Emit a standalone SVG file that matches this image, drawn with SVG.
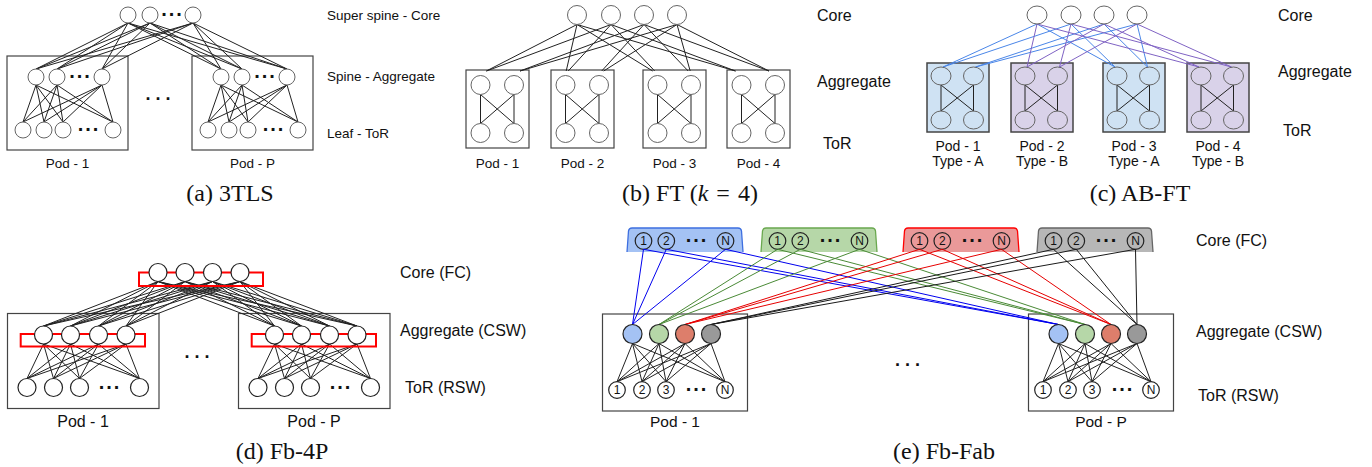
<svg xmlns="http://www.w3.org/2000/svg" width="1372" height="467" viewBox="0 0 1372 467">
<style>
text{font-family:"Liberation Sans",Arial,sans-serif;fill:#111}
.cap{font-family:"Liberation Serif","Times New Roman",serif;font-size:24px;text-anchor:middle}
.l13{font-size:13.5px}
.l16{font-size:16px}
.p13{font-size:13.5px;text-anchor:middle}
.p14{font-size:14px;text-anchor:middle}
.p16{font-size:16px;text-anchor:middle}
.p15{font-size:15.5px;text-anchor:middle}
.dots{font-weight:bold;font-size:20px;letter-spacing:2px;text-anchor:middle}
.mdots{font-weight:bold;font-size:18px;letter-spacing:5px;text-anchor:middle}
.num{font-size:12px;text-anchor:middle}
.box{fill:none;stroke:#444;stroke-width:1.2}
.boxA{fill:#cfe2f3;stroke:#444;stroke-width:1.5}
.boxB{fill:#d9d2e9;stroke:#444;stroke-width:1.5}
.ng{fill:#fff;stroke:#666;stroke-width:1}
.nt{fill:none;stroke:#666;stroke-width:1}
.nk{fill:#fff;stroke:#222;stroke-width:1.2}
.no{fill:none;stroke:#222;stroke-width:1.2}
.red{fill:none;stroke:#f00;stroke-width:2}
line{stroke-width:1;fill:none}
.k line,line.k{stroke:#222}
.bl line{stroke:#4a86e8}
.pu line{stroke:#8063c4}
.eb line{stroke:#0000ee}
.eg line{stroke:#4a8a36}
.er line{stroke:#e60000}
.ek line{stroke:#1a1a1a}
</style>

<!-- ================= containers ================= -->
<g id="a-pod1"><rect class="box" x="7" y="56" width="121" height="94"/><text class="p13" x="67.5" y="167.5">Pod - 1</text></g>
<g id="a-podP"><rect class="box" x="192" y="56" width="121" height="94"/><text class="p13" x="252.5" y="167.5">Pod - P</text></g>

<g id="b-pod1"><rect class="box" x="466" y="70" width="63" height="78"/><text class="p13" x="497.5" y="168">Pod - 1</text></g>
<g id="b-pod2"><rect class="box" x="551" y="70" width="63" height="78"/><text class="p13" x="582.5" y="168">Pod - 2</text></g>
<g id="b-pod3"><rect class="box" x="643" y="70" width="63" height="78"/><text class="p13" x="674.5" y="168">Pod - 3</text></g>
<g id="b-pod4"><rect class="box" x="727" y="70" width="63" height="78"/><text class="p13" x="758.5" y="168">Pod - 4</text></g>

<g id="c-pod1"><rect class="boxA" x="927" y="63" width="62" height="69"/><text class="p14" x="958" y="151">Pod - 1</text><text class="p14" x="958" y="166">Type - A</text></g>
<g id="c-pod2"><rect class="boxB" x="1011" y="63" width="62" height="69"/><text class="p14" x="1042" y="151">Pod - 2</text><text class="p14" x="1042" y="166">Type - B</text></g>
<g id="c-pod3"><rect class="boxA" x="1103" y="63" width="62" height="69"/><text class="p14" x="1134" y="151">Pod - 3</text><text class="p14" x="1134" y="166">Type - A</text></g>
<g id="c-pod4"><rect class="boxB" x="1187" y="63" width="62" height="69"/><text class="p14" x="1218" y="151">Pod - 4</text><text class="p14" x="1218" y="166">Type - B</text></g>

<g id="d-pod1"><rect class="box" x="7.5" y="313.5" width="151.5" height="95"/><text class="p16" x="83" y="427.4">Pod - 1</text></g>
<g id="d-podP"><rect class="box" x="238.5" y="313.5" width="151.5" height="95"/><text class="p16" x="314" y="427.4">Pod - P</text></g>

<g id="e-pod1"><rect class="box" x="602.5" y="314" width="145" height="97"/><text class="p15" x="675" y="427">Pod - 1</text></g>
<g id="e-podP"><rect class="box" x="1028.5" y="314" width="145" height="97"/><text class="p15" x="1101" y="427">Pod - P</text></g>

<!-- Fb-Fab core planes -->
<g id="e-plane1" transform="translate(627,228)">
<path d="M0,24 L1.5,3 Q2,0 5,0 L111,0 Q114,0 114.5,3 L116,24 Z" fill="#a4c2f4"/>
<path d="M0,24 L1.5,3 Q2,0 5,0 L111,0 Q114,0 114.5,3 L116,24" fill="none" stroke="#3d6fe0" stroke-width="1.3"/>
<circle class="no" cx="16.5" cy="13" r="8.3"/><text class="num" x="16.5" y="17.3">1</text>
<circle class="no" cx="39.3" cy="13" r="8.3"/><text class="num" x="39.3" y="17.3">2</text>
<text class="dots" x="70" y="14.4">...</text>
<circle class="no" cx="98.5" cy="13" r="8.3"/><text class="num" x="98.5" y="17.3">N</text>
</g>
<g id="e-plane2" transform="translate(761,228)">
<path d="M0,24 L1.5,3 Q2,0 5,0 L111,0 Q114,0 114.5,3 L116,24 Z" fill="#b6d7a8"/>
<path d="M0,24 L1.5,3 Q2,0 5,0 L111,0 Q114,0 114.5,3 L116,24" fill="none" stroke="#6aa84f" stroke-width="1.3"/>
<circle class="no" cx="16.5" cy="13" r="8.3"/><text class="num" x="16.5" y="17.3">1</text>
<circle class="no" cx="39.3" cy="13" r="8.3"/><text class="num" x="39.3" y="17.3">2</text>
<text class="dots" x="70" y="14.4">...</text>
<circle class="no" cx="98.5" cy="13" r="8.3"/><text class="num" x="98.5" y="17.3">N</text>
</g>
<g id="e-plane3" transform="translate(903,228)">
<path d="M0,24 L1.5,3 Q2,0 5,0 L111,0 Q114,0 114.5,3 L116,24 Z" fill="#ea9999"/>
<path d="M0,24 L1.5,3 Q2,0 5,0 L111,0 Q114,0 114.5,3 L116,24" fill="none" stroke="#ff0000" stroke-width="1.3"/>
<circle class="no" cx="16.5" cy="13" r="8.3"/><text class="num" x="16.5" y="17.3">1</text>
<circle class="no" cx="39.3" cy="13" r="8.3"/><text class="num" x="39.3" y="17.3">2</text>
<text class="dots" x="70" y="14.4">...</text>
<circle class="no" cx="98.5" cy="13" r="8.3"/><text class="num" x="98.5" y="17.3">N</text>
</g>
<g id="e-plane4" transform="translate(1037,228)">
<path d="M0,24 L1.5,3 Q2,0 5,0 L111,0 Q114,0 114.5,3 L116,24 Z" fill="#b7b7b7"/>
<path d="M0,24 L1.5,3 Q2,0 5,0 L111,0 Q114,0 114.5,3 L116,24" fill="none" stroke="#666" stroke-width="1.3"/>
<circle class="no" cx="16.5" cy="13" r="8.3"/><text class="num" x="16.5" y="17.3">1</text>
<circle class="no" cx="39.3" cy="13" r="8.3"/><text class="num" x="39.3" y="17.3">2</text>
<text class="dots" x="70" y="14.4">...</text>
<circle class="no" cx="98.5" cy="13" r="8.3"/><text class="num" x="98.5" y="17.3">N</text>
</g>

<!-- ================= connectors ================= -->
<g id="connectors">
 <g id="a-links" class="k">
  <line x1="128" y1="23" x2="36" y2="69"/><line x1="128" y1="23" x2="57" y2="69"/><line x1="128" y1="23" x2="102" y2="69"/>
  <line x1="128" y1="23" x2="221" y2="69"/><line x1="128" y1="23" x2="242" y2="69"/><line x1="128" y1="23" x2="287" y2="69"/>
  <line x1="150" y1="23" x2="36" y2="69"/><line x1="150" y1="23" x2="57" y2="69"/><line x1="150" y1="23" x2="102" y2="69"/>
  <line x1="150" y1="23" x2="221" y2="69"/><line x1="150" y1="23" x2="242" y2="69"/><line x1="150" y1="23" x2="287" y2="69"/>
  <line x1="193" y1="23" x2="36" y2="69"/><line x1="193" y1="23" x2="57" y2="69"/><line x1="193" y1="23" x2="102" y2="69"/>
  <line x1="193" y1="23" x2="221" y2="69"/><line x1="193" y1="23" x2="242" y2="69"/><line x1="193" y1="23" x2="287" y2="69"/>
  <g id="a-pod1-links">
   <line x1="36" y1="85" x2="23" y2="122"/><line x1="36" y1="85" x2="44" y2="122"/><line x1="36" y1="85" x2="63" y2="122"/><line x1="36" y1="85" x2="113" y2="122"/>
   <line x1="57" y1="85" x2="23" y2="122"/><line x1="57" y1="85" x2="44" y2="122"/><line x1="57" y1="85" x2="63" y2="122"/><line x1="57" y1="85" x2="113" y2="122"/>
   <line x1="102" y1="85" x2="23" y2="122"/><line x1="102" y1="85" x2="44" y2="122"/><line x1="102" y1="85" x2="63" y2="122"/><line x1="102" y1="85" x2="113" y2="122"/>
  </g>
  <g id="a-podP-links" transform="translate(185,0)">
   <line x1="36" y1="85" x2="23" y2="122"/><line x1="36" y1="85" x2="44" y2="122"/><line x1="36" y1="85" x2="63" y2="122"/><line x1="36" y1="85" x2="113" y2="122"/>
   <line x1="57" y1="85" x2="23" y2="122"/><line x1="57" y1="85" x2="44" y2="122"/><line x1="57" y1="85" x2="63" y2="122"/><line x1="57" y1="85" x2="113" y2="122"/>
   <line x1="102" y1="85" x2="23" y2="122"/><line x1="102" y1="85" x2="44" y2="122"/><line x1="102" y1="85" x2="63" y2="122"/><line x1="102" y1="85" x2="113" y2="122"/>
  </g>
 </g>

 <g id="b-links" class="k">
  <line x1="577" y1="24.5" x2="486.3" y2="71"/><line x1="577" y1="24.5" x2="566.2" y2="71"/><line x1="577" y1="24.5" x2="652.7" y2="71"/><line x1="577" y1="24.5" x2="735.5" y2="71"/>
  <line x1="611" y1="24.5" x2="486.5" y2="71"/><line x1="611" y1="24.5" x2="568.2" y2="71"/><line x1="611" y1="24.5" x2="654.7" y2="71"/><line x1="611" y1="24.5" x2="735.5" y2="71"/>
  <line x1="644" y1="24.5" x2="520" y2="71"/><line x1="644" y1="24.5" x2="601.7" y2="71"/><line x1="644" y1="24.5" x2="688.2" y2="71"/><line x1="644" y1="24.5" x2="769" y2="71"/>
  <line x1="677" y1="24.5" x2="520" y2="71"/><line x1="677" y1="24.5" x2="603.7" y2="71"/><line x1="677" y1="24.5" x2="690.2" y2="71"/><line x1="677" y1="24.5" x2="769" y2="71"/>
  <g transform="translate(466,0)"><line x1="14.5" y1="94.5" x2="14.5" y2="123.5"/><line x1="48" y1="94.5" x2="48" y2="123.5"/><line x1="14.5" y1="94.5" x2="48" y2="123.5"/><line x1="48" y1="94.5" x2="14.5" y2="123.5"/></g>
  <g transform="translate(551,0)"><line x1="14.5" y1="94.5" x2="14.5" y2="123.5"/><line x1="48" y1="94.5" x2="48" y2="123.5"/><line x1="14.5" y1="94.5" x2="48" y2="123.5"/><line x1="48" y1="94.5" x2="14.5" y2="123.5"/></g>
  <g transform="translate(643,0)"><line x1="14.5" y1="94.5" x2="14.5" y2="123.5"/><line x1="48" y1="94.5" x2="48" y2="123.5"/><line x1="14.5" y1="94.5" x2="48" y2="123.5"/><line x1="48" y1="94.5" x2="14.5" y2="123.5"/></g>
  <g transform="translate(727,0)"><line x1="14.5" y1="94.5" x2="14.5" y2="123.5"/><line x1="48" y1="94.5" x2="48" y2="123.5"/><line x1="14.5" y1="94.5" x2="48" y2="123.5"/><line x1="48" y1="94.5" x2="14.5" y2="123.5"/></g>
 </g>

 <g id="c-links">
  <g class="bl">
   <line x1="1037" y1="24" x2="943" y2="67"/><line x1="1071" y1="24" x2="943" y2="67"/>
   <line x1="1104" y1="24" x2="975.5" y2="67"/><line x1="1137" y1="24" x2="975.5" y2="67"/>
   <line x1="1037" y1="24" x2="1115" y2="67"/><line x1="1071" y1="24" x2="1115" y2="67"/>
   <line x1="1104" y1="24" x2="1147.5" y2="67"/><line x1="1137" y1="24" x2="1147.5" y2="67"/>
  </g>
  <g class="pu">
   <line x1="1037" y1="24" x2="1027" y2="67"/><line x1="1104" y1="24" x2="1027" y2="67"/>
   <line x1="1071" y1="24" x2="1059.5" y2="67"/><line x1="1137" y1="24" x2="1059.5" y2="67"/>
   <line x1="1037" y1="24" x2="1199" y2="67"/><line x1="1104" y1="24" x2="1199" y2="67"/>
   <line x1="1071" y1="24" x2="1231.5" y2="67"/><line x1="1137" y1="24" x2="1231.5" y2="67"/>
  </g>
  <g class="k" style="stroke-width:1.3">
   <g transform="translate(927,0)"><line x1="14" y1="85" x2="14" y2="111"/><line x1="46.5" y1="85" x2="46.5" y2="111"/><line x1="14" y1="85" x2="46.5" y2="111"/><line x1="46.5" y1="85" x2="14" y2="111"/></g>
   <g transform="translate(1011,0)"><line x1="14" y1="85" x2="14" y2="111"/><line x1="46.5" y1="85" x2="46.5" y2="111"/><line x1="14" y1="85" x2="46.5" y2="111"/><line x1="46.5" y1="85" x2="14" y2="111"/></g>
   <g transform="translate(1103,0)"><line x1="14" y1="85" x2="14" y2="111"/><line x1="46.5" y1="85" x2="46.5" y2="111"/><line x1="14" y1="85" x2="46.5" y2="111"/><line x1="46.5" y1="85" x2="14" y2="111"/></g>
   <g transform="translate(1187,0)"><line x1="14" y1="85" x2="14" y2="111"/><line x1="46.5" y1="85" x2="46.5" y2="111"/><line x1="14" y1="85" x2="46.5" y2="111"/><line x1="46.5" y1="85" x2="14" y2="111"/></g>
  </g>
 </g>

 <g id="d-links" class="k">
  <line x1="158" y1="281.5" x2="43.5" y2="326"/><line x1="158" y1="281.5" x2="70.5" y2="326"/><line x1="158" y1="281.5" x2="98.5" y2="326"/><line x1="158" y1="281.5" x2="126" y2="326"/>
  <line x1="158" y1="281.5" x2="274.5" y2="326"/><line x1="158" y1="281.5" x2="301.5" y2="326"/><line x1="158" y1="281.5" x2="329.5" y2="326"/><line x1="158" y1="281.5" x2="357" y2="326"/>
  <line x1="185" y1="281.5" x2="43.5" y2="326"/><line x1="185" y1="281.5" x2="70.5" y2="326"/><line x1="185" y1="281.5" x2="98.5" y2="326"/><line x1="185" y1="281.5" x2="126" y2="326"/>
  <line x1="185" y1="281.5" x2="274.5" y2="326"/><line x1="185" y1="281.5" x2="301.5" y2="326"/><line x1="185" y1="281.5" x2="329.5" y2="326"/><line x1="185" y1="281.5" x2="357" y2="326"/>
  <line x1="212.5" y1="281.5" x2="43.5" y2="326"/><line x1="212.5" y1="281.5" x2="70.5" y2="326"/><line x1="212.5" y1="281.5" x2="98.5" y2="326"/><line x1="212.5" y1="281.5" x2="126" y2="326"/>
  <line x1="212.5" y1="281.5" x2="274.5" y2="326"/><line x1="212.5" y1="281.5" x2="301.5" y2="326"/><line x1="212.5" y1="281.5" x2="329.5" y2="326"/><line x1="212.5" y1="281.5" x2="357" y2="326"/>
  <line x1="240" y1="281.5" x2="43.5" y2="326"/><line x1="240" y1="281.5" x2="70.5" y2="326"/><line x1="240" y1="281.5" x2="98.5" y2="326"/><line x1="240" y1="281.5" x2="126" y2="326"/>
  <line x1="240" y1="281.5" x2="274.5" y2="326"/><line x1="240" y1="281.5" x2="301.5" y2="326"/><line x1="240" y1="281.5" x2="329.5" y2="326"/><line x1="240" y1="281.5" x2="357" y2="326"/>
  <g id="d-pod1-links">
   <line x1="43.5" y1="344" x2="27" y2="378.5"/><line x1="43.5" y1="344" x2="53.5" y2="378.5"/><line x1="43.5" y1="344" x2="79.5" y2="378.5"/><line x1="43.5" y1="344" x2="139.5" y2="378.5"/>
   <line x1="70.5" y1="344" x2="27" y2="378.5"/><line x1="70.5" y1="344" x2="53.5" y2="378.5"/><line x1="70.5" y1="344" x2="79.5" y2="378.5"/><line x1="70.5" y1="344" x2="139.5" y2="378.5"/>
   <line x1="98.5" y1="344" x2="27" y2="378.5"/><line x1="98.5" y1="344" x2="53.5" y2="378.5"/><line x1="98.5" y1="344" x2="79.5" y2="378.5"/><line x1="98.5" y1="344" x2="139.5" y2="378.5"/>
   <line x1="126" y1="344" x2="27" y2="378.5"/><line x1="126" y1="344" x2="53.5" y2="378.5"/><line x1="126" y1="344" x2="79.5" y2="378.5"/><line x1="126" y1="344" x2="139.5" y2="378.5"/>
  </g>
  <g id="d-podP-links" transform="translate(231,0)">
   <line x1="43.5" y1="344" x2="27" y2="378.5"/><line x1="43.5" y1="344" x2="53.5" y2="378.5"/><line x1="43.5" y1="344" x2="79.5" y2="378.5"/><line x1="43.5" y1="344" x2="139.5" y2="378.5"/>
   <line x1="70.5" y1="344" x2="27" y2="378.5"/><line x1="70.5" y1="344" x2="53.5" y2="378.5"/><line x1="70.5" y1="344" x2="79.5" y2="378.5"/><line x1="70.5" y1="344" x2="139.5" y2="378.5"/>
   <line x1="98.5" y1="344" x2="27" y2="378.5"/><line x1="98.5" y1="344" x2="53.5" y2="378.5"/><line x1="98.5" y1="344" x2="79.5" y2="378.5"/><line x1="98.5" y1="344" x2="139.5" y2="378.5"/>
   <line x1="126" y1="344" x2="27" y2="378.5"/><line x1="126" y1="344" x2="53.5" y2="378.5"/><line x1="126" y1="344" x2="79.5" y2="378.5"/><line x1="126" y1="344" x2="139.5" y2="378.5"/>
  </g>
 </g>

 <g id="e-links">
  <g class="eb">
   <line x1="643.5" y1="249.3" x2="632.5" y2="324.5"/><line x1="666.3" y1="249.3" x2="632.5" y2="324.5"/><line x1="725.5" y1="249.3" x2="632.5" y2="324.5"/>
   <line x1="643.5" y1="249.3" x2="1058.5" y2="324.5"/><line x1="666.3" y1="249.3" x2="1058.5" y2="324.5"/><line x1="725.5" y1="249.3" x2="1058.5" y2="324.5"/>
  </g>
  <g class="eg">
   <line x1="777.5" y1="249.3" x2="659" y2="324.5"/><line x1="800.3" y1="249.3" x2="659" y2="324.5"/><line x1="859.5" y1="249.3" x2="659" y2="324.5"/>
   <line x1="777.5" y1="249.3" x2="1085" y2="324.5"/><line x1="800.3" y1="249.3" x2="1085" y2="324.5"/><line x1="859.5" y1="249.3" x2="1085" y2="324.5"/>
  </g>
  <g class="er">
   <line x1="919.5" y1="249.3" x2="685" y2="324.5"/><line x1="942.3" y1="249.3" x2="685" y2="324.5"/><line x1="1001.5" y1="249.3" x2="685" y2="324.5"/>
   <line x1="919.5" y1="249.3" x2="1111" y2="324.5"/><line x1="942.3" y1="249.3" x2="1111" y2="324.5"/><line x1="1001.5" y1="249.3" x2="1111" y2="324.5"/>
  </g>
  <g class="ek">
   <line x1="1053.5" y1="249.3" x2="711" y2="324.5"/><line x1="1076.3" y1="249.3" x2="711" y2="324.5"/><line x1="1135.5" y1="249.3" x2="711" y2="324.5"/>
   <line x1="1053.5" y1="249.3" x2="1137" y2="324.5"/><line x1="1076.3" y1="249.3" x2="1137" y2="324.5"/><line x1="1135.5" y1="249.3" x2="1137" y2="324.5"/>
  </g>
  <g id="e-pod1-links" class="k">
   <line x1="632.5" y1="343.5" x2="617" y2="381.7"/><line x1="632.5" y1="343.5" x2="642" y2="381.7"/><line x1="632.5" y1="343.5" x2="666" y2="381.7"/><line x1="632.5" y1="343.5" x2="725" y2="381.7"/>
   <line x1="659" y1="343.5" x2="617" y2="381.7"/><line x1="659" y1="343.5" x2="642" y2="381.7"/><line x1="659" y1="343.5" x2="666" y2="381.7"/><line x1="659" y1="343.5" x2="725" y2="381.7"/>
   <line x1="685" y1="343.5" x2="617" y2="381.7"/><line x1="685" y1="343.5" x2="642" y2="381.7"/><line x1="685" y1="343.5" x2="666" y2="381.7"/><line x1="685" y1="343.5" x2="725" y2="381.7"/>
   <line x1="711" y1="343.5" x2="617" y2="381.7"/><line x1="711" y1="343.5" x2="642" y2="381.7"/><line x1="711" y1="343.5" x2="666" y2="381.7"/><line x1="711" y1="343.5" x2="725" y2="381.7"/>
  </g>
  <g id="e-podP-links" class="k" transform="translate(426,0)">
   <line x1="632.5" y1="343.5" x2="617" y2="381.7"/><line x1="632.5" y1="343.5" x2="642" y2="381.7"/><line x1="632.5" y1="343.5" x2="666" y2="381.7"/><line x1="632.5" y1="343.5" x2="725" y2="381.7"/>
   <line x1="659" y1="343.5" x2="617" y2="381.7"/><line x1="659" y1="343.5" x2="642" y2="381.7"/><line x1="659" y1="343.5" x2="666" y2="381.7"/><line x1="659" y1="343.5" x2="725" y2="381.7"/>
   <line x1="685" y1="343.5" x2="617" y2="381.7"/><line x1="685" y1="343.5" x2="642" y2="381.7"/><line x1="685" y1="343.5" x2="666" y2="381.7"/><line x1="685" y1="343.5" x2="725" y2="381.7"/>
   <line x1="711" y1="343.5" x2="617" y2="381.7"/><line x1="711" y1="343.5" x2="642" y2="381.7"/><line x1="711" y1="343.5" x2="666" y2="381.7"/><line x1="711" y1="343.5" x2="725" y2="381.7"/>
  </g>
 </g>
</g>

<!-- ================= switch nodes ================= -->
<!-- (a) 3TLS -->
<g id="a-core-switches">
 <circle class="ng" cx="128" cy="15" r="8"/><circle class="ng" cx="150" cy="15" r="8"/><circle class="ng" cx="193" cy="15" r="8"/>
 <text class="dots" x="172.5" y="16.4">...</text>
</g>
<g id="a-pod1-switches">
 <circle class="ng" cx="36" cy="77" r="8"/><circle class="ng" cx="57" cy="77" r="8"/><circle class="ng" cx="102" cy="77" r="8"/>
 <text class="dots" x="80.5" y="78.4">...</text>
 <circle class="ng" cx="23" cy="130" r="8"/><circle class="ng" cx="44" cy="130" r="8"/><circle class="ng" cx="63" cy="130" r="8"/><circle class="ng" cx="113" cy="130" r="8"/>
 <text class="dots" x="89" y="131.4">...</text>
</g>
<g id="a-podP-switches" transform="translate(185,0)">
 <circle class="ng" cx="36" cy="77" r="8"/><circle class="ng" cx="57" cy="77" r="8"/><circle class="ng" cx="102" cy="77" r="8"/>
 <text class="dots" x="80.5" y="78.4">...</text>
 <circle class="ng" cx="23" cy="130" r="8"/><circle class="ng" cx="44" cy="130" r="8"/><circle class="ng" cx="63" cy="130" r="8"/><circle class="ng" cx="113" cy="130" r="8"/>
 <text class="dots" x="89" y="131.4">...</text>
</g>
<text class="mdots" x="160.5" y="100">...</text>
<g id="a-labels" class="l13">
 <text x="327" y="19.5">Super spine - Core</text>
 <text x="327" y="81">Spine - Aggregate</text>
 <text x="327" y="137.5">Leaf - ToR</text>
</g>
<text class="cap" x="230" y="201">(a) 3TLS</text>

<!-- (b) FT -->
<g id="b-core-switches">
 <circle class="ng" cx="577" cy="15" r="9.5"/><circle class="ng" cx="611" cy="15" r="9.5"/><circle class="ng" cx="644" cy="15" r="9.5"/><circle class="ng" cx="677" cy="15" r="9.5"/>
</g>
<g id="b-pod-switches">
 <g transform="translate(466,0)"><circle class="ng" cx="14.5" cy="85" r="9.5"/><circle class="ng" cx="48" cy="85" r="9.5"/><circle class="ng" cx="14.5" cy="133" r="9.5"/><circle class="ng" cx="48" cy="133" r="9.5"/></g>
 <g transform="translate(551,0)"><circle class="ng" cx="14.5" cy="85" r="9.5"/><circle class="ng" cx="48" cy="85" r="9.5"/><circle class="ng" cx="14.5" cy="133" r="9.5"/><circle class="ng" cx="48" cy="133" r="9.5"/></g>
 <g transform="translate(643,0)"><circle class="ng" cx="14.5" cy="85" r="9.5"/><circle class="ng" cx="48" cy="85" r="9.5"/><circle class="ng" cx="14.5" cy="133" r="9.5"/><circle class="ng" cx="48" cy="133" r="9.5"/></g>
 <g transform="translate(727,0)"><circle class="ng" cx="14.5" cy="85" r="9.5"/><circle class="ng" cx="48" cy="85" r="9.5"/><circle class="ng" cx="14.5" cy="133" r="9.5"/><circle class="ng" cx="48" cy="133" r="9.5"/></g>
</g>
<g id="b-labels" class="l16">
 <text x="817" y="20.7">Core</text>
 <text x="817" y="87">Aggregate</text>
 <text x="823" y="149">ToR</text>
</g>
<text class="cap" x="690" y="201">(b) FT (<tspan font-style="italic">k</tspan> <tspan dx="2">=</tspan> <tspan dx="2">4</tspan>)</text>

<!-- (c) AB-FT -->
<g id="c-core-switches">
 <ellipse class="ng" cx="1037" cy="15" rx="10" ry="9"/><ellipse class="ng" cx="1071" cy="15" rx="10" ry="9"/><ellipse class="ng" cx="1104" cy="15" rx="10" ry="9"/><ellipse class="ng" cx="1137" cy="15" rx="10" ry="9"/>
</g>
<g id="c-pod-switches">
 <g transform="translate(927,0)"><ellipse class="nt" cx="14" cy="76" rx="10" ry="9"/><ellipse class="nt" cx="46.5" cy="76" rx="10" ry="9"/><ellipse class="nt" cx="14" cy="120" rx="10" ry="9"/><ellipse class="nt" cx="46.5" cy="120" rx="10" ry="9"/></g>
 <g transform="translate(1011,0)"><ellipse class="nt" cx="14" cy="76" rx="10" ry="9"/><ellipse class="nt" cx="46.5" cy="76" rx="10" ry="9"/><ellipse class="nt" cx="14" cy="120" rx="10" ry="9"/><ellipse class="nt" cx="46.5" cy="120" rx="10" ry="9"/></g>
 <g transform="translate(1103,0)"><ellipse class="nt" cx="14" cy="76" rx="10" ry="9"/><ellipse class="nt" cx="46.5" cy="76" rx="10" ry="9"/><ellipse class="nt" cx="14" cy="120" rx="10" ry="9"/><ellipse class="nt" cx="46.5" cy="120" rx="10" ry="9"/></g>
 <g transform="translate(1187,0)"><ellipse class="nt" cx="14" cy="76" rx="10" ry="9"/><ellipse class="nt" cx="46.5" cy="76" rx="10" ry="9"/><ellipse class="nt" cx="14" cy="120" rx="10" ry="9"/><ellipse class="nt" cx="46.5" cy="120" rx="10" ry="9"/></g>
</g>
<g id="c-labels" class="l16">
 <text x="1278" y="20.7">Core</text>
 <text x="1278" y="77.4">Aggregate</text>
 <text x="1283" y="135.7">ToR</text>
</g>
<text class="cap" x="1140" y="201">(c) AB-FT</text>

<!-- (d) Fb-4P -->
<g id="d-core-switches">
 <rect class="red" x="139" y="272.5" width="124" height="13.5"/>
 <circle class="nk" cx="158" cy="272.5" r="9"/><circle class="nk" cx="185" cy="272.5" r="9"/><circle class="nk" cx="212.5" cy="272.5" r="9"/><circle class="nk" cx="240" cy="272.5" r="9"/>
</g>
<g id="d-pod1-switches">
 <rect class="red" x="20.7" y="334" width="124.3" height="12.5"/>
 <circle class="nk" cx="43.5" cy="335" r="9"/><circle class="nk" cx="70.5" cy="335" r="9"/><circle class="nk" cx="98.5" cy="335" r="9"/><circle class="nk" cx="126" cy="335" r="9"/>
 <circle class="nk" cx="27" cy="387.5" r="9"/><circle class="nk" cx="53.5" cy="387.5" r="9"/><circle class="nk" cx="79.5" cy="387.5" r="9"/><circle class="nk" cx="139.5" cy="387.5" r="9"/>
 <text class="dots" x="110" y="389">...</text>
</g>
<g id="d-podP-switches" transform="translate(231,0)">
 <rect class="red" x="20.7" y="334" width="124.3" height="12.5"/>
 <circle class="nk" cx="43.5" cy="335" r="9"/><circle class="nk" cx="70.5" cy="335" r="9"/><circle class="nk" cx="98.5" cy="335" r="9"/><circle class="nk" cx="126" cy="335" r="9"/>
 <circle class="nk" cx="27" cy="387.5" r="9"/><circle class="nk" cx="53.5" cy="387.5" r="9"/><circle class="nk" cx="79.5" cy="387.5" r="9"/><circle class="nk" cx="139.5" cy="387.5" r="9"/>
 <text class="dots" x="110" y="389">...</text>
</g>
<text class="mdots" x="199.5" y="358">...</text>
<g id="d-labels" class="l16">
 <text x="400" y="278.4">Core (FC)</text>
 <text x="400" y="336.4">Aggregate (CSW)</text>
 <text x="405" y="392.7">ToR (RSW)</text>
</g>
<text class="cap" x="282" y="459">(d) Fb-4P</text>

<!-- (e) Fb-Fab -->
<g id="e-pod1-switches">
 <circle class="nk" cx="632.5" cy="334" r="9.5" style="fill:#a4c2f4"/>
 <circle class="nk" cx="659" cy="334" r="9.5" style="fill:#b6d7a8"/>
 <circle class="nk" cx="685" cy="334" r="9.5" style="fill:#dd7e6b"/>
 <circle class="nk" cx="711" cy="334" r="9.5" style="fill:#999999"/>
 <circle class="nk" cx="617" cy="390" r="8.3"/><text class="num" x="617" y="394.3">1</text>
 <circle class="nk" cx="642" cy="390" r="8.3"/><text class="num" x="642" y="394.3">2</text>
 <circle class="nk" cx="666" cy="390" r="8.3"/><text class="num" x="666" y="394.3">3</text>
 <text class="dots" x="697" y="391.4">...</text>
 <circle class="nk" cx="725" cy="390" r="8.3"/><text class="num" x="725" y="394.3">N</text>
</g>
<g id="e-podP-switches" transform="translate(426,0)">
 <circle class="nk" cx="632.5" cy="334" r="9.5" style="fill:#a4c2f4"/>
 <circle class="nk" cx="659" cy="334" r="9.5" style="fill:#b6d7a8"/>
 <circle class="nk" cx="685" cy="334" r="9.5" style="fill:#dd7e6b"/>
 <circle class="nk" cx="711" cy="334" r="9.5" style="fill:#999999"/>
 <circle class="nk" cx="617" cy="390" r="8.3"/><text class="num" x="617" y="394.3">1</text>
 <circle class="nk" cx="642" cy="390" r="8.3"/><text class="num" x="642" y="394.3">2</text>
 <circle class="nk" cx="666" cy="390" r="8.3"/><text class="num" x="666" y="394.3">3</text>
 <text class="dots" x="697" y="391.4">...</text>
 <circle class="nk" cx="725" cy="390" r="8.3"/><text class="num" x="725" y="394.3">N</text>
</g>
<text class="mdots" x="910" y="366">...</text>
<g id="e-labels" class="l16">
 <text x="1196" y="245.7">Core (FC)</text>
 <text x="1196" y="336.7">Aggregate (CSW)</text>
 <text x="1198" y="400.7">ToR (RSW)</text>
</g>
<text class="cap" x="944" y="459">(e) Fb-Fab</text>
</svg>
